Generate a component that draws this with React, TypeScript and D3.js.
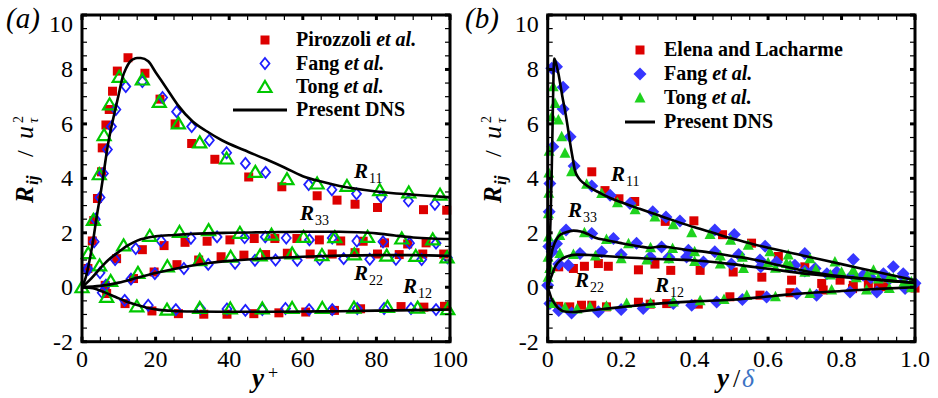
import React from 'react';
import * as d3 from 'd3';

type P = [number, number];

// ---------- Panel (a): y+ ----------
const dnsLeftR11: P[] = [[0,0],[1,0.35],[2,0.95],[3,1.7],[4,2.6],[5,3.4],[6,4.3],[7,5.2],[8,5.9],[9,6.5],[10,7.1],[11,7.7],[12,8.05],[13,8.28],[14,8.38],[15,8.42],[16,8.42],[18,8.3],[20,7.9],[23,7.3],[26,6.7],[30,6.1],[34,5.72],[38,5.4],[44,5.04],[50,4.7],[55,4.4],[60,4.08],[65,3.88],[70,3.72],[80,3.52],[90,3.4],[100,3.3]];
const dnsLeftR33: P[] = [[0,0],[2,0.25],[4,0.55],[6,0.85],[8,1.1],[10,1.3],[12,1.5],[14,1.65],[16,1.76],[18,1.83],[20,1.87],[25,1.92],[30,1.96],[40,2.0],[50,2.02],[60,2.04],[70,2.04],[75,2.02],[80,1.98],[85,1.9],[90,1.83],[95,1.79],[100,1.77]];
const dnsLeftR22: P[] = [[0,0],[5,0.05],[10,0.17],[15,0.35],[20,0.52],[25,0.67],[30,0.8],[35,0.9],[40,0.97],[50,1.06],[60,1.12],[70,1.16],[80,1.18],[90,1.18],[100,1.15]];
const dnsLeftR12: P[] = [[0,0],[3,-0.04],[6,-0.18],[9,-0.35],[12,-0.52],[15,-0.65],[18,-0.76],[21,-0.83],[25,-0.87],[30,-0.89],[40,-0.9],[50,-0.9],[60,-0.89],[70,-0.88],[80,-0.86],[90,-0.84],[100,-0.82]];

const pirozzoliR11: P[] = [[1.6,0.69],[2.8,1.7],[3.2,2.45],[4.2,3.26],[5.3,4.24],[5.5,5.12],[6.5,5.96],[7.4,6.53],[8.3,7.2],[9.6,7.94],[12.5,8.43],[17.1,7.86],[21.2,6.91],[25.3,6.0],[29.8,5.28],[36.1,4.7],[45.3,4.05],[54.3,3.69],[63.9,3.36],[69.3,3.2],[74.2,3.05],[80.3,2.93],[92.8,2.85],[99.1,2.83]];
const pirozzoliR33: P[] = [[9.4,1.05],[16.4,1.38],[22.3,1.53],[28,1.65],[34,1.69],[40.2,1.74],[46.8,1.79],[52.4,1.79],[58.4,1.79],[64.5,1.74],[70.3,1.7],[76.4,1.69],[82.2,1.63],[88.5,1.59],[93.5,1.63]];
const pirozzoliR22: P[] = [[6.3,0.07],[14,0.32],[19.6,0.56],[25.8,0.83],[31.7,1.0],[37.8,1.12],[44,1.18],[49.9,1.2],[55.8,1.25],[62,1.22],[68,1.22],[74.2,1.27],[80.3,1.22],[86.2,1.2],[92.6,1.22],[98.3,1.22]];
const pirozzoliR12: P[] = [[6.7,-0.23],[11.7,-0.6],[19,-0.87],[26.2,-0.97],[33.1,-0.99],[39.4,-0.99],[46.7,-0.97],[53.5,-0.94],[60.8,-0.91],[68.6,-0.85],[75.7,-0.79],[86.7,-0.71],[92.9,-0.73],[98.5,-0.7]];

const fangLeftR11: P[] = [[1.4,0.66],[3.3,1.67],[3.6,2.5],[4.9,3.3],[5.8,4.18],[6.9,5.06],[8.0,5.9],[9.2,6.53],[11.9,7.37],[16.4,7.55],[21.9,6.97],[25.7,6.45],[29.8,5.9],[34.6,5.4],[39.3,4.94],[44.4,4.55],[49.9,4.22],[61.6,3.77],[67.9,3.58],[74.6,3.43],[81.3,3.31],[88.7,3.17],[95.9,3.05]];
const fangLeftR33: P[] = [[1.7,0.66],[4.9,0.53],[9,1.02],[14.6,1.42],[21.5,1.7],[29.6,1.8],[36.7,1.85],[44.2,1.82],[49.8,1.85],[55.5,1.81],[61.8,1.74],[68,1.81],[74.7,1.7],[81.8,1.67],[89,1.62],[96.2,1.62]];
const fangLeftR22: P[] = [[6.5,0.08],[13.3,0.3],[19.8,0.5],[27.7,0.69],[34.3,0.84],[41.6,0.88],[47,0.99],[52.6,1.0],[58.5,0.99],[64.6,1.03],[71.1,1.05],[78.2,1.03],[85.3,1.03],[92.3,1.02],[99.3,1.08]];
const fangLeftR12: P[] = [[5.5,-0.2],[11.6,-0.48],[18,-0.66],[25.5,-0.82],[32.2,-0.78],[39.4,-0.8],[44.4,-0.85],[49,-0.82],[55.3,-0.78],[61.7,-0.82],[68,-0.82],[74.8,-0.78],[82.1,-0.78],[89.4,-0.78],[96.2,-0.82]];

const tongLeftR11: P[] = [[0,0],[1.7,1.25],[3.1,2.47],[4.7,4.15],[6.0,5.59],[7.5,6.72],[10.1,7.73],[16.4,7.63],[21,6.81],[26.2,6.02],[32,5.32],[39.3,4.73],[47.1,4.24],[55.7,3.97],[63.9,3.81],[72,3.72],[80.9,3.57],[88.8,3.48],[97.3,3.4]];
const tongLeftR33: P[] = [[4.8,0.8],[11.3,1.54],[18.4,1.89],[26.5,2.03],[34.4,2.1],[42.9,2.0],[51.5,1.93],[60.2,1.85],[68.7,1.84],[77.6,1.85],[86.9,1.79],[95.3,1.76]];
const tongLeftR22: P[] = [[7.8,0.23],[15.2,0.53],[23.2,0.77],[32,1.0],[40.4,1.12],[48.4,1.17],[57.1,1.24],[65.2,1.18],[74,1.21],[82.8,1.16],[90.7,1.15],[99.2,1.1]];
const tongLeftR12: P[] = [[6.7,-0.35],[14.9,-0.7],[23.1,-0.82],[32,-0.76],[40.3,-0.78],[49,-0.78],[57.1,-0.76],[65.3,-0.76],[73.9,-0.75],[83,-0.72],[91.2,-0.75],[99.4,-0.8]];

// ---------- Panel (b): y/delta ----------
const dnsRightR11: P[] = [[0,0],[0.004,1.0],[0.008,2.6],[0.011,4.3],[0.014,6.5],[0.016,7.9],[0.018,8.4],[0.021,8.3],[0.025,8.1],[0.03,7.8],[0.035,7.4],[0.04,7.0],[0.047,6.5],[0.055,5.85],[0.061,5.3],[0.068,4.75],[0.074,4.3],[0.085,4.0],[0.1,3.8],[0.12,3.62],[0.14,3.48],[0.17,3.28],[0.2,3.12],[0.25,2.88],[0.3,2.65],[0.35,2.42],[0.4,2.2],[0.45,2.0],[0.5,1.8],[0.55,1.62],[0.6,1.45],[0.7,1.15],[0.8,0.85],[0.9,0.55],[1.0,0.26]];
const dnsRightR33: P[] = [[0,0],[0.005,0.6],[0.01,1.2],[0.02,1.65],[0.03,1.88],[0.05,2.02],[0.07,2.08],[0.09,2.05],[0.11,1.95],[0.13,1.82],[0.16,1.73],[0.2,1.62],[0.25,1.5],[0.28,1.45],[0.31,1.5],[0.34,1.45],[0.38,1.37],[0.43,1.3],[0.5,1.15],[0.55,1.05],[0.6,0.9],[0.7,0.6],[0.8,0.4],[0.9,0.28],[1.0,0.16]];
const dnsRightR22: P[] = [[0,0],[0.01,0.4],[0.02,0.75],[0.035,1.0],[0.05,1.12],[0.08,1.2],[0.12,1.18],[0.2,1.1],[0.3,1.04],[0.4,0.98],[0.5,0.85],[0.6,0.68],[0.7,0.5],[0.8,0.38],[0.9,0.27],[1.0,0.16]];
const dnsRightR12: P[] = [[0,0],[0.005,-0.2],[0.01,-0.4],[0.02,-0.62],[0.03,-0.78],[0.05,-0.9],[0.07,-0.91],[0.1,-0.87],[0.15,-0.8],[0.2,-0.73],[0.3,-0.6],[0.4,-0.52],[0.5,-0.46],[0.6,-0.34],[0.65,-0.27],[0.7,-0.22],[0.8,-0.14],[0.9,-0.06],[1.0,0.0]];

const elenaR11: P[] = [[0.12,4.24],[0.156,3.55],[0.194,3.25],[0.237,3.15],[0.32,2.42],[0.398,2.44],[0.476,1.93],[0.555,1.62],[0.628,1.13],[0.7,0.75],[1.0,-0.03]];
const elenaR22: P[] = [[0.03,0.75],[0.07,0.69],[0.1,0.77],[0.138,0.87],[0.165,0.77],[0.247,0.64],[0.292,0.85],[0.335,0.62],[0.415,0.62],[0.505,0.56],[0.583,0.37],[0.664,0.26],[0.746,0.14],[0.796,0.26],[0.832,0.07],[0.873,0.14],[0.918,0.02]];
const elenaR12: P[] = [[0.03,-0.7],[0.06,-0.72],[0.092,-0.66],[0.12,-0.66],[0.16,-0.72],[0.247,-0.55],[0.279,-0.62],[0.324,-0.6],[0.41,-0.62],[0.496,-0.35],[0.578,-0.29],[0.66,-0.2],[0.75,-0.1],[0.83,-0.05],[0.9,0.0]];

const fangRightR11: P[] = [[0.003,1.5],[0.004,2.77],[0.006,3.81],[0.011,8.04],[0.014,5.16],[0.024,8.1],[0.042,7.35],[0.042,6.55],[0.061,5.53],[0.072,4.45],[0.12,3.72],[0.17,3.38],[0.224,3.08],[0.286,2.77],[0.322,2.58],[0.36,2.43],[0.455,2.1],[0.508,1.94],[0.592,1.51],[0.7,1.24],[0.832,1.02],[0.941,0.75],[0.968,0.5]];
const fangRightR33: P[] = [[0.024,1.6],[0.05,2.1],[0.12,1.97],[0.179,1.79],[0.242,1.62],[0.31,1.48],[0.383,1.36],[0.455,1.3],[0.52,1.2],[0.578,1.0],[0.623,0.93],[0.673,0.81],[0.728,0.69],[0.787,0.56],[0.859,0.44],[0.914,0.5],[0.97,0.35]];
const fangRightR22: P[] = [[0.0,0.07],[0.012,1.3],[0.03,0.85],[0.056,0.81],[0.088,1.24],[0.147,1.3],[0.2,1.2],[0.279,1.11],[0.33,1.1],[0.378,1.11],[0.424,0.93],[0.5,0.85],[0.58,0.75],[0.66,0.75],[0.7,0.6],[0.76,0.5],[0.83,0.45],[0.88,0.35],[0.93,0.3],[1.0,0.15]];
const fangRightR12: P[] = [[0.006,-0.6],[0.03,-0.85],[0.065,-0.95],[0.138,-0.9],[0.2,-0.82],[0.26,-0.78],[0.342,-0.6],[0.392,-0.66],[0.46,-0.54],[0.53,-0.45],[0.596,-0.36],[0.678,-0.23],[0.732,-0.29],[0.823,-0.17],[0.896,-0.17],[0.973,-0.05]];

const tongRightR11: P[] = [[0.001,0.37],[0.001,1.1],[0.002,1.85],[0.002,2.7],[0.003,3.45],[0.003,4.2],[0.004,5.0],[0.011,6.26],[0.015,7.36],[0.02,6.75],[0.029,6.14],[0.038,5.53],[0.047,4.92],[0.065,4.24],[0.106,3.78],[0.147,3.44],[0.19,3.1],[0.238,2.85],[0.292,2.58],[0.342,2.3],[0.392,2.0],[0.442,1.94],[0.498,1.73],[0.546,1.54],[0.605,1.3],[0.655,1.18],[0.714,1.05],[0.782,0.93],[0.832,0.62],[0.887,0.62],[0.941,0.32]];
const tongRightR33: P[] = [[0.006,0.7],[0.033,1.9],[0.1,2.0],[0.16,1.75],[0.22,1.6],[0.28,1.45],[0.34,1.42],[0.4,1.3],[0.47,1.15],[0.53,1.1],[0.6,0.9],[0.66,0.8],[0.73,0.65],[0.8,0.55],[0.87,0.45],[0.93,0.35],[0.99,0.2]];
const tongRightR22: P[] = [[0.006,0.69],[0.033,1.24],[0.07,1.2],[0.13,1.15],[0.2,1.05],[0.27,1.0],[0.33,1.05],[0.4,0.95],[0.47,0.85],[0.533,0.69],[0.62,0.7],[0.65,0.87],[0.7,0.55],[0.77,0.45],[0.84,0.35],[0.9,0.3],[0.97,0.18]];
const tongRightR12: P[] = [[0.015,-0.6],[0.047,-0.75],[0.08,-0.8],[0.115,-0.72],[0.16,-0.7],[0.215,-0.6],[0.28,-0.6],[0.342,-0.54],[0.415,-0.5],[0.48,-0.45],[0.542,-0.3],[0.62,-0.35],[0.714,-0.23],[0.773,-0.1],[0.868,-0.1],[0.93,-0.05],[0.99,-0.02]];

// ticks
const yMajor = [-2, 0, 2, 4, 6, 8, 10];
const xLeftMajor = [0, 20, 40, 60, 80, 100];
const xRightMajor = [0, 0.2, 0.4, 0.6, 0.8, 1.0];
const xRightLabels = ['0', '0.2', '0.4', '0.6', '0.8', '1.0'];
const legendLeft = ['Pirozzoli', 'Fang', 'Tong', 'Present DNS'];
const legendRight = ['Elena and Lacharme', 'Fang', 'Tong', 'Present DNS'];

const FONT = "'Liberation Serif', 'DejaVu Serif', serif";
const RED = '#dd0000';
const BLUE = '#1f1fff';
const BLUE_F = '#3636ff';
const GREEN = '#00c800';
const GREEN_F = '#1ed21e';

const TOP = 15;
const BOTTOM = 341.7;
const yScale = d3.scaleLinear().domain([-2, 10]).range([BOTTOM, TOP]);
const xLeft = d3.scaleLinear().domain([0, 100]).range([82, 450]);
const xRight = d3.scaleLinear().domain([0, 1]).range([547.7, 915]);

type Kind = 'sq' | 'dh' | 'th' | 'df' | 'tf';

function marker(kind: Kind, x: number, y: number, key: string | number) {
  switch (kind) {
    case 'sq':
      return <rect key={key} x={x - 4.5} y={y - 4.5} width={9} height={9} fill={RED} />;
    case 'dh':
      return <path key={key} d={`M${x},${y - 5.5}L${x + 4.5},${y}L${x},${y + 5.5}L${x - 4.5},${y}Z`} fill="none" stroke={BLUE} strokeWidth={1.8} />;
    case 'th':
      return <path key={key} d={`M${x},${y - 6}L${x + 6.5},${y + 5}L${x - 6.5},${y + 5}Z`} fill="none" stroke={GREEN} strokeWidth={2.2} />;
    case 'df':
      return <path key={key} d={`M${x},${y - 6.5}L${x + 6.5},${y}L${x},${y + 6.5}L${x - 6.5},${y}Z`} fill={BLUE_F} />;
    case 'tf':
      return <path key={key} d={`M${x},${y - 6}L${x + 5.5},${y + 4.5}L${x - 5.5},${y + 4.5}Z`} fill={GREEN_F} />;
  }
}

function Scatter({ data, kind, xs }: { data: P[]; kind: Kind; xs: d3.ScaleLinear<number, number> }) {
  return <g>{data.map((d, i) => marker(kind, xs(d[0]), yScale(d[1]), i))}</g>;
}

function Curve({ data, xs }: { data: P[]; xs: d3.ScaleLinear<number, number> }) {
  const gen = d3.line<P>().x(d => xs(d[0])).y(d => yScale(d[1])).curve(d3.curveMonotoneX);
  return <path d={gen(data) || ''} fill="none" stroke="#000" strokeWidth={2.6} strokeLinejoin="round" />;
}

function Frame({ xs, majors, minorStep, labels }: { xs: d3.ScaleLinear<number, number>; majors: number[]; minorStep: number; labels: string[] }) {
  const [d0, d1] = xs.domain();
  const [x0, x1] = xs.range();
  const xMinor = d3.range(d0, d1 + minorStep / 2, minorStep).filter(v => !majors.some(m => Math.abs(m - v) < 1e-9));
  const yMinor = d3.range(-2, 10.25, 0.5).filter(v => !yMajor.some(m => Math.abs(m - v) < 1e-9));
  const els: any[] = [];
  const L = 5;
  xMinor.forEach((v, i) => {
    const x = xs(v);
    els.push(<line key={`xb${i}`} x1={x} x2={x} y1={BOTTOM} y2={BOTTOM - L} stroke="#000" strokeWidth={1.2} />);
    els.push(<line key={`xt${i}`} x1={x} x2={x} y1={TOP} y2={TOP + L} stroke="#000" strokeWidth={1.2} />);
  });
  majors.forEach((v, i) => {
    const x = xs(v);
    els.push(<line key={`xB${i}`} x1={x} x2={x} y1={BOTTOM} y2={BOTTOM - L} stroke="#000" strokeWidth={3} />);
    els.push(<line key={`xT${i}`} x1={x} x2={x} y1={TOP} y2={TOP + L} stroke="#000" strokeWidth={3} />);
  });
  yMinor.forEach((v, i) => {
    const y = yScale(v);
    els.push(<line key={`yl${i}`} x1={x0} x2={x0 + L} y1={y} y2={y} stroke="#000" strokeWidth={1.2} />);
    els.push(<line key={`yr${i}`} x1={x1} x2={x1 - L} y1={y} y2={y} stroke="#000" strokeWidth={1.2} />);
  });
  yMajor.forEach((v, i) => {
    const y = yScale(v);
    els.push(<line key={`yL${i}`} x1={x0} x2={x0 + L} y1={y} y2={y} stroke="#000" strokeWidth={3} />);
    els.push(<line key={`yR${i}`} x1={x1} x2={x1 - L} y1={y} y2={y} stroke="#000" strokeWidth={3} />);
  });
  return (
    <g>
      {els}
      <rect x={x0} y={TOP} width={x1 - x0} height={BOTTOM - TOP} fill="none" stroke="#000" strokeWidth={3} />
      {majors.map((v, i) => (
        <text key={`xl${i}`} x={xs(v)} y={367} textAnchor="middle" fontSize={24} style={{ fontFamily: FONT }}>{labels[i]}</text>
      ))}
      {yMajor.map((v, i) => (
        <text key={`yl${i}`} x={x0 - 9} y={yScale(v) + (v === 10 ? 9 : 0) + 8} textAnchor="end" fontSize={24} style={{ fontFamily: FONT }}>{String(v)}</text>
      ))}
    </g>
  );
}

function RLabel({ x, y, sub }: { x: number; y: number; sub: string }) {
  return (
    <text x={x} y={y} fontSize={21} fontStyle="italic" fontWeight="bold" style={{ fontFamily: FONT }}>
      R<tspan fontSize={14} fontStyle="normal" fontWeight="normal" dx={1} dy={5}>{sub}</tspan>
    </text>
  );
}

function YLabel({ x, y }: { x: number; y: number }) {
  return (
    <g transform={`translate(${x},${y}) rotate(-90)`} style={{ fontFamily: FONT }}>
      <text x={0} y={0} fontSize={25} fontStyle="italic" fontWeight="bold">R</text>
      <text x={18} y={5} fontSize={17} fontStyle="italic" fontWeight="bold">ij</text>
      <text x={46} y={0} fontSize={24}>/</text>
      <text x={64} y={0} fontSize={26} fontStyle="italic">u</text>
      <text x={80} y={-10} fontSize={14}>2</text>
      <text x={80} y={5} fontSize={14} fontStyle="italic">τ</text>
    </g>
  );
}

function Legend({ x, tx, ys, names, kinds, lineX }: { x: number; tx: number; ys: number[]; names: string[]; kinds: Kind[]; lineX: [number, number] }) {
  return (
    <g fontSize={20} fontWeight="bold" style={{ fontFamily: FONT }}>
      {kinds.map((k, i) => marker(k, x, ys[i] - 6, `m${i}`))}
      <line x1={lineX[0]} x2={lineX[1]} y1={ys[3] - 6} y2={ys[3] - 6} stroke="#000" strokeWidth={3} />
      {names.map((n, i) => (
        <text key={`t${i}`} x={tx} y={ys[i]}>
          {n}
          {(i === 0 && n === 'Pirozzoli') || i === 1 || i === 2 ? <tspan fontStyle="italic"> et al.</tspan> : null}
        </text>
      ))}
    </g>
  );
}

export default function App() {
  return (
    <svg width={938} height={398} viewBox="0 0 938 398" style={{ position: 'absolute', left: 0, top: 0, background: '#fff', fontFamily: FONT }}>
      <rect x={0} y={0} width={938} height={398} fill="#fff" />
      {/* Panel a */}
      <Scatter data={pirozzoliR11} kind="sq" xs={xLeft} />
      <Scatter data={pirozzoliR33} kind="sq" xs={xLeft} />
      <Scatter data={pirozzoliR22} kind="sq" xs={xLeft} />
      <Scatter data={pirozzoliR12} kind="sq" xs={xLeft} />
      <Scatter data={fangLeftR11} kind="dh" xs={xLeft} />
      <Scatter data={fangLeftR33} kind="dh" xs={xLeft} />
      <Scatter data={fangLeftR22} kind="dh" xs={xLeft} />
      <Scatter data={fangLeftR12} kind="dh" xs={xLeft} />
      <Scatter data={tongLeftR11} kind="th" xs={xLeft} />
      <Scatter data={tongLeftR33} kind="th" xs={xLeft} />
      <Scatter data={tongLeftR22} kind="th" xs={xLeft} />
      <Scatter data={tongLeftR12} kind="th" xs={xLeft} />
      <Curve data={dnsLeftR11} xs={xLeft} />
      <Curve data={dnsLeftR33} xs={xLeft} />
      <Curve data={dnsLeftR22} xs={xLeft} />
      <Curve data={dnsLeftR12} xs={xLeft} />
      <Frame xs={xLeft} majors={xLeftMajor} minorStep={5} labels={xLeftMajor.map(String)} />
      <RLabel x={354} y={178} sub="11" />
      <RLabel x={300} y={220} sub="33" />
      <RLabel x={354} y={280} sub="22" />
      <RLabel x={403} y={293} sub="12" />
      <Legend x={265} tx={296} ys={[46, 69.5, 93, 116]} names={legendLeft} kinds={['sq', 'dh', 'th']} lineX={[233, 287]} />
      <text x={6} y={28} fontSize={29} fontStyle="italic" style={{ fontFamily: FONT }}>(a)</text>
      <YLabel x={33} y={203} />
      <text x={252} y={387} fontSize={27} fontStyle="italic" fontWeight="bold" style={{ fontFamily: FONT }}>y</text>
      <text x={268} y={379} fontSize={18} style={{ fontFamily: FONT }}>+</text>

      {/* Panel b */}
      <Scatter data={elenaR11} kind="sq" xs={xRight} />
      <Scatter data={elenaR22} kind="sq" xs={xRight} />
      <Scatter data={elenaR12} kind="sq" xs={xRight} />
      <Scatter data={fangRightR11} kind="df" xs={xRight} />
      <Scatter data={fangRightR33} kind="df" xs={xRight} />
      <Scatter data={fangRightR22} kind="df" xs={xRight} />
      <Scatter data={fangRightR12} kind="df" xs={xRight} />
      <Scatter data={tongRightR11} kind="tf" xs={xRight} />
      <Scatter data={tongRightR33} kind="tf" xs={xRight} />
      <Scatter data={tongRightR22} kind="tf" xs={xRight} />
      <Scatter data={tongRightR12} kind="tf" xs={xRight} />
      <Curve data={dnsRightR11} xs={xRight} />
      <Curve data={dnsRightR33} xs={xRight} />
      <Curve data={dnsRightR22} xs={xRight} />
      <Curve data={dnsRightR12} xs={xRight} />
      <Frame xs={xRight} majors={xRightMajor} minorStep={0.05} labels={xRightLabels} />
      <RLabel x={611} y={181} sub="11" />
      <RLabel x={568} y={217} sub="33" />
      <RLabel x={575} y={287} sub="22" />
      <RLabel x={655} y={292} sub="12" />
      <Legend x={640} tx={664} ys={[56, 80, 104, 128]} names={legendRight} kinds={['sq', 'df', 'tf']} lineX={[625, 655]} />
      <text x={465} y={28} fontSize={29} fontStyle="italic" style={{ fontFamily: FONT }}>(b)</text>
      <YLabel x={501} y={203} />
      <text x={717} y={387} fontSize={27} fontStyle="italic" fontWeight="bold" style={{ fontFamily: FONT }}>y</text>
      <text x={733} y={387} fontSize={26} style={{ fontFamily: FONT }}>/</text>
      <text x={742} y={387} fontSize={26} fontStyle="italic" fill="#3b73c4" style={{ fontFamily: FONT }}>δ</text>
    </svg>
  );
}
